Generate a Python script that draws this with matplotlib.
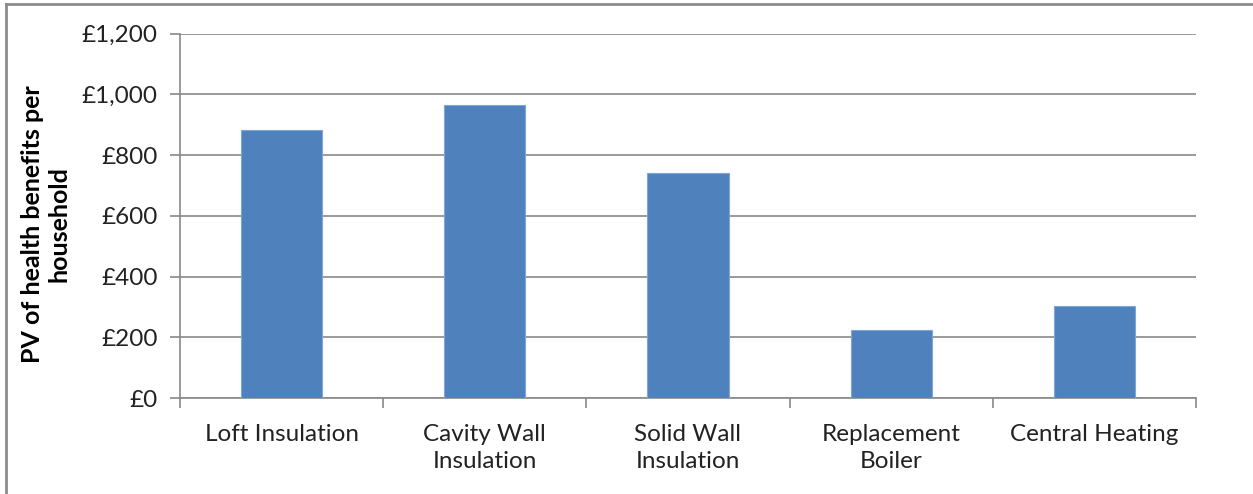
import matplotlib
matplotlib.use("Agg")
import matplotlib.pyplot as plt
from matplotlib.lines import Line2D
from matplotlib.ticker import FixedLocator, FuncFormatter

categories = ["Loft Insulation", "Cavity Wall\nInsulation", "Solid Wall\nInsulation",
              "Replacement\nBoiler", "Central Heating"]
values = [883, 966, 740, 223, 304]
y_ticks = [0, 200, 400, 600, 800, 1000, 1200]

plt.rcParams['font.family'] = ['Lato', 'DejaVu Sans']

W, H = 1253, 494
fig = plt.figure(figsize=(W / 100, H / 100), dpi=100)
ax = fig.add_axes([180 / W, 1 - 398 / H, (1196 - 180) / W, (398 - 33.5) / H])

grey = "#898989"
x = list(range(len(categories)))
ax.bar(x, values, width=0.4, color="#4F81BD", edgecolor="#7FA6D6", linewidth=0.8, zorder=3)

ax.set_xlim(-0.5, len(categories) - 0.5)
ax.set_ylim(0, 1200)
ax.yaxis.set_major_locator(FixedLocator(y_ticks))
ax.yaxis.set_major_formatter(FuncFormatter(lambda v, p: f"£{int(v):,}"))
ax.grid(axis="y", color=grey, linewidth=1.2, zorder=0)

ax.set_xticks([i + 0.5 for i in range(-1, len(categories))], minor=False)
ax.set_xticklabels([])
ax.set_xticks(x, minor=True)
ax.set_xticklabels(categories, minor=True, fontsize=17.5, color="#222222", linespacing=1.35)
ax.tick_params(axis="x", which="major", length=7, width=1.2, color=grey, direction="out")
ax.tick_params(axis="x", which="minor", length=0, pad=19)
ax.tick_params(axis="y", length=7, width=1.2, color=grey, labelsize=17.5,
               labelcolor="#222222", pad=9)

for s in ("top", "right"):
    ax.spines[s].set_visible(False)
for s in ("left", "bottom"):
    ax.spines[s].set_color(grey)
    ax.spines[s].set_linewidth(1.2)

fig.text(46 / W, 1 - 224 / H, "PV of health benefits per\nhousehold", rotation=90,
         ha="center", va="center", fontsize=18, fontweight="bold", linespacing=1.2)

# chart frame
fig.add_artist(Line2D([6 / W, 6 / W], [0, 1 - 4.5 / H], transform=fig.transFigure,
                      color="#8C8C8C", linewidth=2))
fig.add_artist(Line2D([6 / W, 1], [1 - 4.5 / H, 1 - 4.5 / H], transform=fig.transFigure,
                      color="#8C8C8C", linewidth=2))

fig.savefig("out.png", dpi=100, facecolor="white")
